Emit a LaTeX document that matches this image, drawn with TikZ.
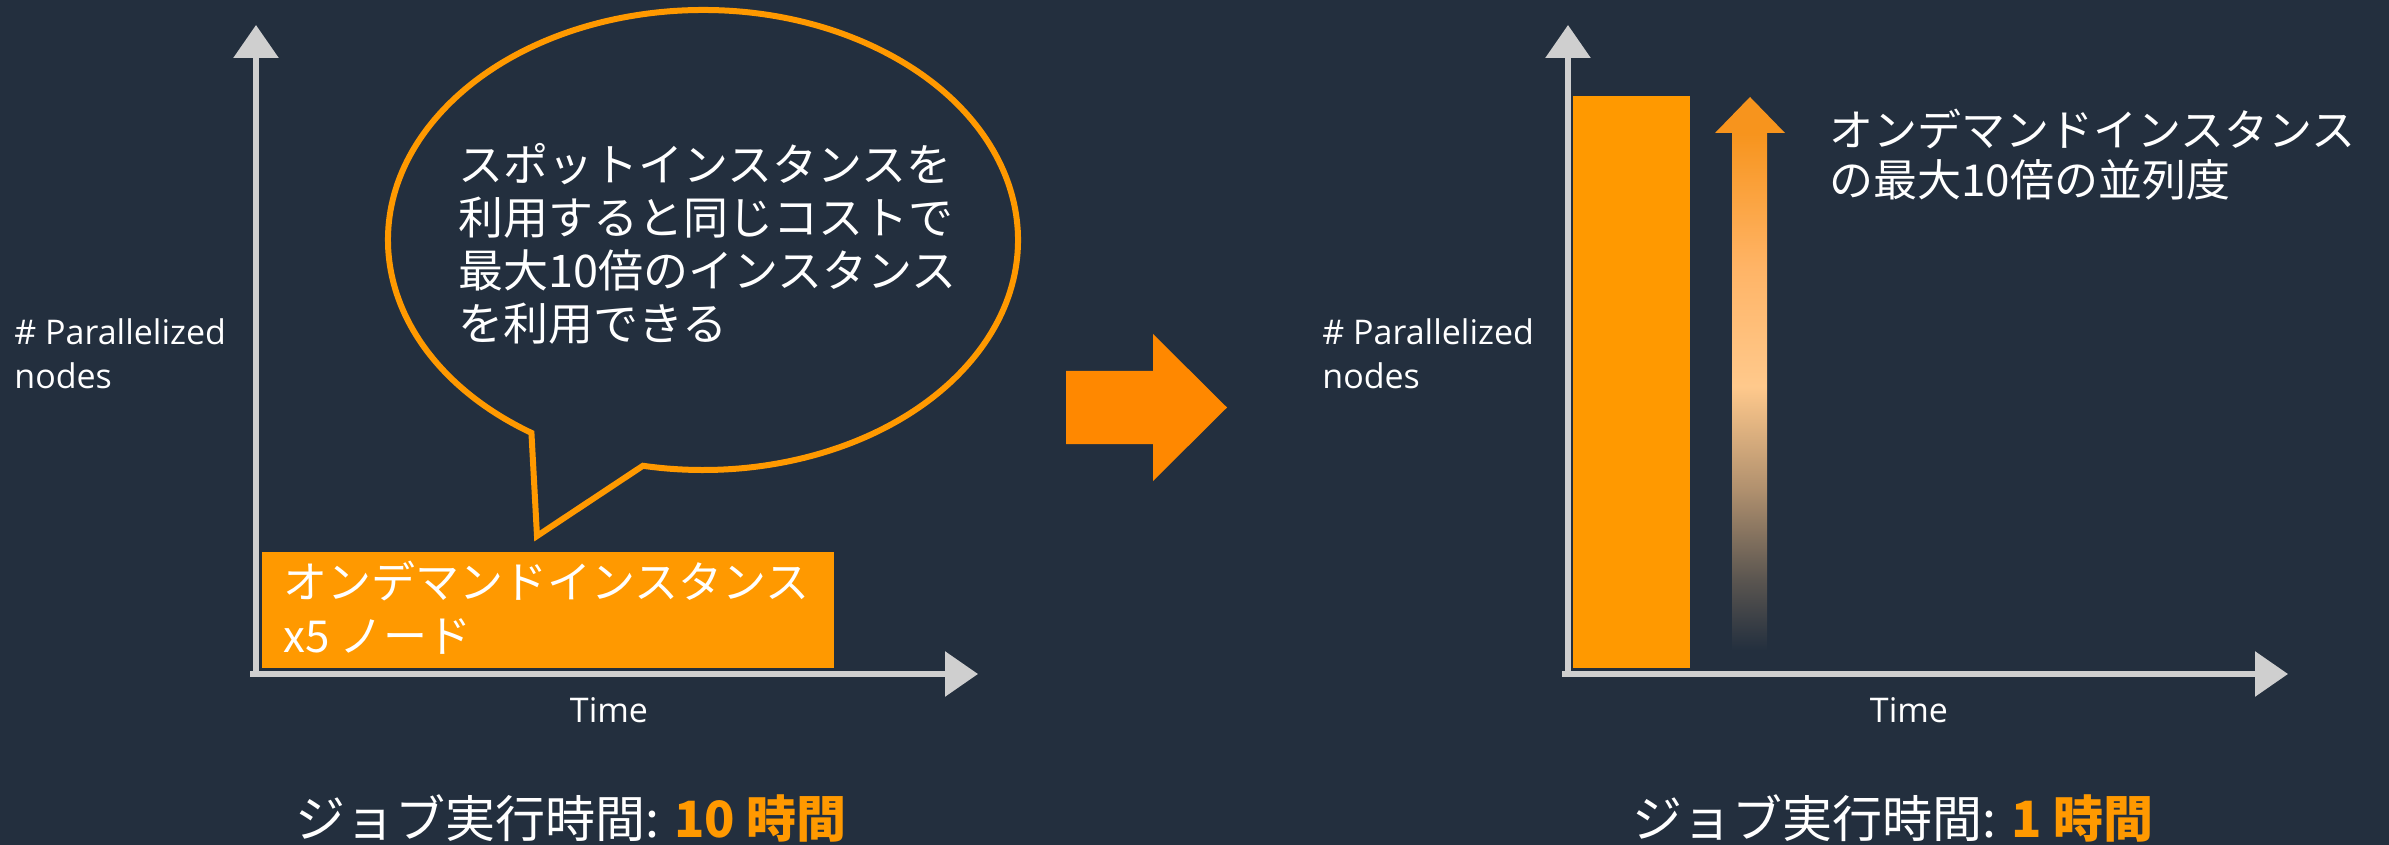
\documentclass[tikz,border=0pt]{standalone}
\usepackage{fontspec}
\setmainfont{Noto Sans CJK JP}
\newfontfamily\labelfont{Open Sans}
\usetikzlibrary{arrows.meta}
\definecolor{bg}{HTML}{232F3E}
\definecolor{aws}{HTML}{FF9900}
\definecolor{bigarrow}{HTML}{FF8800}
\definecolor{chalk}{HTML}{CFCFCF}
\definecolor{peach}{HTML}{FFC98C}
\definecolor{gradtop}{HTML}{F7941D}
\definecolor{lightorange}{HTML}{FFB466}
\definecolor{tan}{HTML}{B0906E}
\definecolor{dusk}{HTML}{5A5550}
\pgfdeclareverticalshading{shaftshade}{100bp}{color(0bp)=(bg); color(25bp)=(bg); color(31.75bp)=(dusk); color(40.5bp)=(tan); color(50.5bp)=(peach); color(62bp)=(lightorange); color(75bp)=(gradtop); color(100bp)=(gradtop)}
\begin{document}
\begin{tikzpicture}[x=0.5pt,y=-0.5pt,
  axis/.style={draw=chalk, line width=3pt, -{Triangle[width=22pt,length=16.5pt]}},
  axislabel/.style={text=white, inner sep=0pt, align=left, font=\labelfont\fontsize{17pt}{22pt}\selectfont},
  jptext/.style={text=white, inner sep=0pt, align=left, font=\fontsize{22pt}{27pt}\selectfont},
  bottomtext/.style={text=white, inner sep=0pt, font=\fontsize{25pt}{30pt}\selectfont},
  orangebox/.style={fill=aws, draw=none}
]
% background / bounding box
\fill[bg] (0,0) rectangle (2389,845);
\path[use as bounding box] (0,0) rectangle (2389,845);

% ---------- left chart ----------
\coordinate (o1) at (256,674);
\coordinate (y1) at (256,25);
\coordinate (x1) at (978,674);
\draw[axis] (o1) -- (y1);
\draw[axis] ([xshift=-3pt]o1) -- (x1);

\node[orangebox, minimum width=286pt, minimum height=58pt, anchor=north west] (od) at (262,552) {};
\node[jptext, anchor=north west] (odtext) at (283,561) {オンデマンドインスタンス\\x5 ノード};

\node[axislabel, anchor=north west] (ylab1) at (14,318) {\# Parallelized\\nodes};
\node[axislabel] (xlab1) at (609,710) {Time};

% speech bubble
\draw[aws, line width=3pt, line join=miter]
  (703,240) ++(123:315 and 230) coordinate (bl)
  arc[start angle=123, end angle=461, x radius=315, y radius=230]
  -- (537,536) coordinate (tailtip) -- cycle;
\node[text=white, inner sep=0pt, align=left, font=\fontsize{22.5pt}{26.5pt}\selectfont, anchor=north west] (bubble) at (458,143)
  {スポットインスタンスを\\利用すると同じコストで\\最大10倍のインスタンス\\を利用できる};

\node[bottomtext] (job1) at (571,818) {ジョブ実行時間: {\color{aws}\bfseries 10 時間}};

% ---------- big arrow ----------
\fill[bigarrow] (1066,371) -- (1153,371) -- (1153,334) -- (1227,407.5) -- (1153,481) -- (1153,444) -- (1066,444) -- cycle;

% ---------- right chart ----------
\coordinate (o2) at (1568,674);
\coordinate (y2) at (1568,25);
\coordinate (x2) at (2288,674);
\draw[axis] (o2) -- (y2);
\draw[axis] ([xshift=-3pt]o2) -- (x2);

\node[orangebox, minimum width=58.5pt, minimum height=286pt, anchor=north west] (bar) at (1573,96) {};

\shade[shading=shaftshade] (1732,133) rectangle (1767,650);
\fill[gradtop] (1715,133) -- (1750,97) -- (1785,133) -- cycle;

\node[text=white, inner sep=0pt, align=left, font=\fontsize{22pt}{25pt}\selectfont, anchor=north west] (par) at (1829,109)
  {オンデマンドインスタンス\\の最大10倍の並列度};

\node[axislabel, anchor=north west] (ylab2) at (1322,318) {\# Parallelized\\nodes};
\node[axislabel] (xlab2) at (1909,710) {Time};

\node[bottomtext] (job2) at (1893,818) {ジョブ実行時間: {\color{aws}\bfseries 1 時間}};
\end{tikzpicture}
\end{document}
